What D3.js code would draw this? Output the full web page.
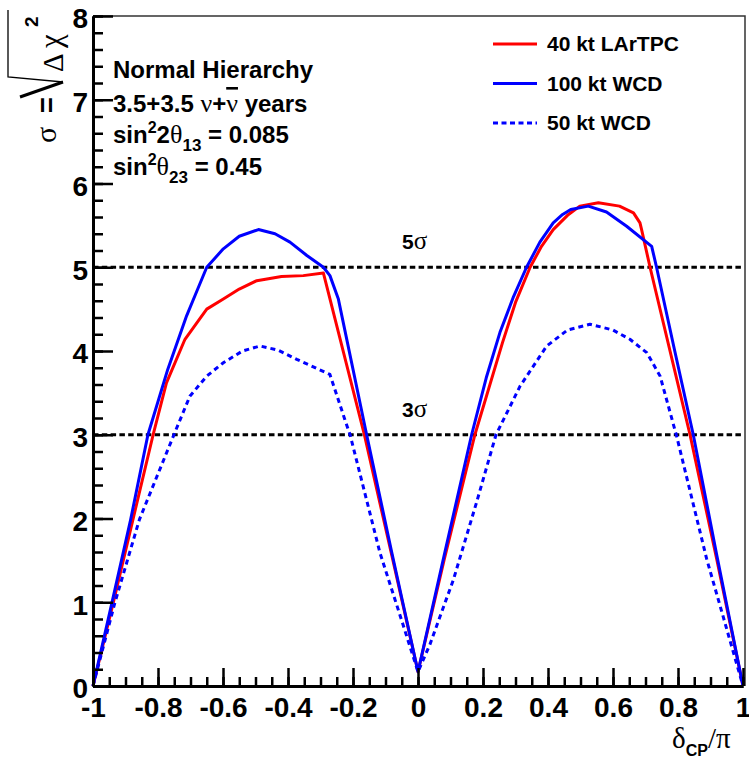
<!DOCTYPE html>
<html>
<head>
<meta charset="utf-8">
<script src="https://cdn.jsdelivr.net/npm/d3@7"></script>
<style>
  body { margin: 0; background: #fff; }
  svg { display: block; }
  text { font-family: "Liberation Sans", Arial, sans-serif; font-weight: bold; fill: #000; }
  .serif { font-family: "Liberation Serif", "DejaVu Serif", serif; font-weight: normal; }
</style>
</head>
<body>
<svg id="chart" width="749" height="757"></svg>
<script>
// delta_CP / pi and sigma
const deltaLar = [-1, -0.938, -0.877, -0.815, -0.774, -0.717, -0.68, -0.65, -0.599, -0.55, -0.496, -0.42, -0.353, -0.291, -0.165, -0.08, 0, 0.08, 0.175, 0.26, 0.3, 0.345, 0.38, 0.416, 0.46, 0.498, 0.555, 0.62, 0.663, 0.683, 0.688, 0.714, 0.837, 0.92, 1];
const sigmaLar = [0, 0.99, 1.99, 3.0, 3.62, 4.14, 4.34, 4.5, 4.62, 4.74, 4.84, 4.89, 4.9, 4.93, 3.0, 1.55, 0.17, 1.5, 3.0, 4.1, 4.58, 5.0, 5.25, 5.45, 5.62, 5.73, 5.77, 5.73, 5.65, 5.53, 5.45, 5.0, 3.0, 1.5, 0];

const deltaWcd100 = [-1, -0.942, -0.884, -0.831, -0.77, -0.712, -0.68, -0.65, -0.599, -0.55, -0.491, -0.44, -0.394, -0.342, -0.291, -0.271, -0.245, -0.158, -0.081, 0, 0.08, 0.165, 0.21, 0.252, 0.294, 0.334, 0.375, 0.416, 0.445, 0.47, 0.524, 0.58, 0.642, 0.719, 0.734, 0.79, 0.847, 0.92, 1];
const sigmaWcd100 = [0, 0.99, 1.99, 3.0, 3.78, 4.42, 4.72, 5.0, 5.22, 5.37, 5.45, 5.4, 5.3, 5.14, 5.0, 4.9, 4.62, 3.0, 1.6, 0.17, 1.55, 3.0, 3.68, 4.22, 4.65, 5.0, 5.3, 5.53, 5.63, 5.69, 5.73, 5.66, 5.49, 5.25, 5.0, 4.0, 3.0, 1.55, 0];

const deltaWcd50 = [-1, -0.933, -0.857, -0.751, -0.702, -0.65, -0.599, -0.54, -0.486, -0.43, -0.373, -0.271, -0.225, -0.209, -0.117, -0.05, 0, 0.037, 0.109, 0.18, 0.24, 0.314, 0.396, 0.46, 0.529, 0.6, 0.652, 0.704, 0.745, 0.796, 0.888, 1];
const sigmaWcd50 = [0, 0.99, 1.99, 3.0, 3.46, 3.7, 3.86, 4.0, 4.06, 4.01, 3.9, 3.72, 3.18, 3.0, 1.59, 0.78, 0.17, 0.5, 1.27, 2.19, 3.0, 3.58, 4.06, 4.25, 4.32, 4.25, 4.14, 3.98, 3.7, 2.98, 1.52, 0];

const xMajor = [-1, -0.8, -0.6, -0.4, -0.2, 0, 0.2, 0.4, 0.6, 0.8, 1];
const xLabels = ["-1", "-0.8", "-0.6", "-0.4", "-0.2", "0", "0.2", "0.4", "0.6", "0.8", "1"];
const yMajor = [0, 1, 2, 3, 4, 5, 6, 7, 8];
const sigmaLevels = [5, 3];

const series = [
  { name: "40 kt LArTPC", xs: deltaLar, ys: sigmaLar, color: "#ff0000", dash: null },
  { name: "100 kt WCD", xs: deltaWcd100, ys: sigmaWcd100, color: "#0000ff", dash: null },
  { name: "50 kt WCD", xs: deltaWcd50, ys: sigmaWcd50, color: "#0000ff", dash: "5,4" }
];

const svg = d3.select("#chart");
const x = d3.scaleLinear().domain([-1, 1]).range([93, 743]);
const y = d3.scaleLinear().domain([0, 8]).range([686, 16]);

// minor ticks: 4 per 0.2 on x, 5 per unit on y
const xMinor = d3.range(0, 41).map(i => -1 + i * 0.05);
const yMinor = d3.range(0, 41).map(i => i * 0.2);

// frame (top / right)
svg.append("path")
  .attr("d", `M${x(-1)},${y(8)}H${x(1) + 2}V${y(0)}`)
  .attr("fill", "none")
  .attr("stroke", "#333")
  .attr("stroke-width", 1.5);

// sigma reference lines
svg.selectAll(".ref")
  .data(sigmaLevels)
  .join("line")
  .attr("class", "ref")
  .attr("x1", x(-1)).attr("x2", x(1))
  .attr("y1", d => y(d)).attr("y2", d => y(d))
  .attr("stroke", "#000")
  .attr("stroke-width", 3)
  .attr("stroke-dasharray", "5.5,3.3");

svg.selectAll(".reflabel")
  .data(sigmaLevels)
  .join("text")
  .attr("class", "reflabel")
  .attr("x", 402)
  .attr("y", d => y(d) - 18)
  .attr("font-size", 21)
  .each(function (d) {
    const t = d3.select(this);
    t.append("tspan").text(d);
    t.append("tspan").attr("class", "serif").attr("font-size", 25).text("σ");
  });

// curves (plain polylines, like the original graph)
const line = d3.line()
  .x(d => x(d[0]))
  .y(d => y(d[1]));

svg.selectAll(".curve")
  .data(series)
  .join("path")
  .attr("class", "curve")
  .attr("d", s => line(s.xs.map((v, i) => [v, s.ys[i]])))
  .attr("fill", "none")
  .attr("stroke", s => s.color)
  .attr("stroke-width", 3)
  .attr("stroke-linejoin", "round")
  .attr("stroke-dasharray", s => s.dash);

// axes
function styleAxis(g, size) {
  g.attr("font-size", size).attr("font-family", null);
  g.select(".domain").attr("stroke-width", 3).attr("stroke", "#000");
  g.selectAll(".tick line").attr("stroke-width", 2.5).attr("stroke", "#000");
}

svg.append("g")
  .attr("transform", `translate(0,${y(0)})`)
  .call(d3.axisBottom(x).tickValues(xMinor).tickSize(-9).tickSizeOuter(0).tickFormat(""))
  .call(styleAxis, 28);

svg.append("g")
  .attr("transform", `translate(0,${y(0)})`)
  .call(d3.axisBottom(x).tickValues(xMajor).tickSize(-18).tickSizeOuter(0).tickPadding(11)
    .tickFormat((d, i) => xLabels[i]))
  .call(styleAxis, 28);

svg.append("g")
  .attr("transform", `translate(${x(-1)},0)`)
  .call(d3.axisLeft(y).tickValues(yMinor).tickSize(-10).tickSizeOuter(0).tickFormat(""))
  .call(styleAxis, 28);

svg.append("g")
  .attr("transform", `translate(${x(-1)},0)`)
  .call(d3.axisLeft(y).tickValues(yMajor).tickSize(-20).tickSizeOuter(0).tickPadding(5))
  .call(styleAxis, 28)
  .selectAll("text").attr("dy", "0.42em");

// x title: delta_CP / pi
const xt = svg.append("text").attr("x", 672).attr("y", 748);
xt.append("tspan").attr("class", "serif").attr("font-size", 29).text("δ");
xt.append("tspan").attr("font-size", 16).attr("dy", 8).text("CP");
xt.append("tspan").attr("class", "serif").attr("font-size", 29).attr("dy", -8).text("/π");

// y title: sigma = sqrt(Delta chi^2), rotated
const yt = svg.append("g").attr("transform", "translate(56,150) rotate(-90)");
yt.append("text").attr("class", "serif").attr("x", 7).attr("y", 0).attr("font-size", 30).text("σ");
yt.append("text").attr("x", 37).attr("y", 0).attr("font-size", 27).text("=");
yt.append("path")
  .attr("d", "M53,-36L68,7")
  .attr("stroke", "#000").attr("stroke-width", 3).attr("fill", "none");
yt.append("path")
  .attr("d", "M68,7L73,-48H140")
  .attr("stroke", "#000").attr("stroke-width", 1.3).attr("fill", "none");
yt.append("text").attr("class", "serif").attr("x", 78).attr("y", 7).attr("font-size", 29).text("Δ");
yt.append("text").attr("class", "serif").attr("x", 102).attr("y", 5).attr("font-size", 31).text("χ");
yt.append("text").attr("x", 123).attr("y", -18).attr("font-size", 19).text("2");

// annotation block
const info = svg.append("g").attr("font-size", 24);
info.append("text").attr("x", 113).attr("y", 78).text("Normal Hierarchy");

const l2 = info.append("text").attr("x", 113).attr("y", 112);
l2.append("tspan").text("3.5+3.5 ");
l2.append("tspan").attr("class", "serif").attr("font-size", 26).text("ν");
l2.append("tspan").text("+");
l2.append("tspan").attr("class", "serif").attr("font-size", 26)
  .style("text-decoration", "overline").text("ν");
l2.append("tspan").text(" years");

const l3 = info.append("text").attr("x", 113).attr("y", 143);
l3.append("tspan").text("sin");
l3.append("tspan").attr("font-size", 16).attr("dy", -10).text("2");
l3.append("tspan").attr("dy", 10).text("2");
l3.append("tspan").attr("class", "serif").attr("font-size", 26).text("θ");
l3.append("tspan").attr("font-size", 17).attr("dy", 8).text("13");
l3.append("tspan").attr("dy", -8).text(" = 0.085");

const l4 = info.append("text").attr("x", 113).attr("y", 175);
l4.append("tspan").text("sin");
l4.append("tspan").attr("font-size", 16).attr("dy", -10).text("2");
l4.append("tspan").attr("class", "serif").attr("font-size", 26).attr("dy", 10).text("θ");
l4.append("tspan").attr("font-size", 17).attr("dy", 8).text("23");
l4.append("tspan").attr("dy", -8).text(" = 0.45");

// legend
const legend = svg.append("g");
const rows = legend.selectAll("g")
  .data(series)
  .join("g")
  .attr("transform", (d, i) => `translate(493,${44 + i * 39.5})`);
rows.append("line")
  .attr("x1", 0).attr("x2", 44)
  .attr("stroke", d => d.color)
  .attr("stroke-width", 3)
  .attr("stroke-dasharray", d => d.dash ? "5,3.5" : null);
rows.append("text")
  .attr("x", 54).attr("y", 7)
  .attr("font-size", 21)
  .text(d => d.name);
</script>
</body>
</html>
